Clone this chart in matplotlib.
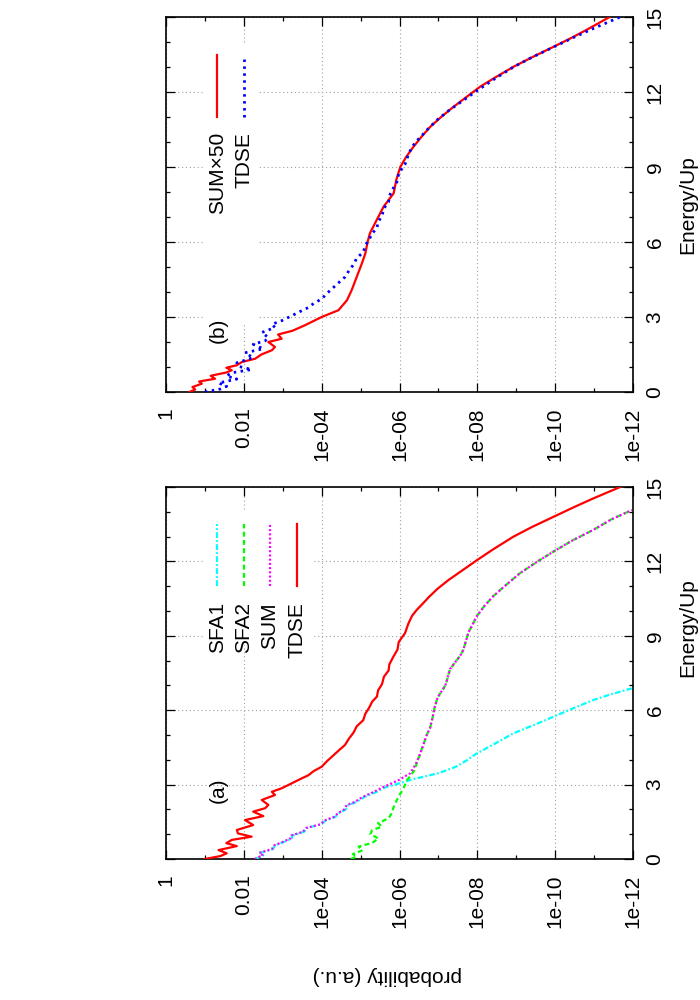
import matplotlib
matplotlib.use("Agg")
import numpy as np
import matplotlib.pyplot as plt
from matplotlib.patches import Rectangle
from matplotlib.ticker import NullFormatter

plt.rcParams['font.family'] = ['Liberation Sans', 'DejaVu Sans']

# DATA (energy in Up, probability stored as log10)
# TDSE, same curve in both panels
tdse_E = [0.00, 0.12, 0.23, 0.36, 0.52, 0.64, 0.77, 0.90, 1.03, 1.17, 1.37, 1.57,
          1.73, 1.91, 2.05, 2.18, 2.38, 2.58, 2.71, 2.85, 3.05, 3.20, 3.38, 3.55,
          3.72, 3.95, 4.12, 4.35, 4.60, 4.85, 5.10, 5.35, 5.60, 5.85, 6.10, 6.35,
          6.55, 6.80, 7.05, 7.35, 7.60, 7.85, 8.15, 8.45, 8.75, 9.10, 9.50, 9.80,
          10.04, 10.30, 10.57, 10.90, 11.25, 11.60, 12.05, 12.50, 13.00, 13.40,
          13.80, 14.20, 14.54, 15.00]
tdse_logp = [-1.00, -1.40, -1.56, -1.35, -1.82, -1.55, -1.69, -2.20, -1.85, -1.82,
             -2.24, -2.03, -2.50, -2.24, -2.55, -2.63, -2.46, -2.80, -2.72, -2.97,
             -3.23, -3.42, -3.66, -3.80, -4.00, -4.14, -4.26, -4.42, -4.60, -4.70,
             -4.82, -4.90, -5.07, -5.12, -5.22, -5.30, -5.42, -5.45, -5.55, -5.60,
             -5.72, -5.74, -5.84, -5.95, -5.98, -6.14, -6.23, -6.32, -6.44, -6.60,
             -6.76, -6.98, -7.26, -7.58, -7.99, -8.42, -8.93, -9.42, -9.96, -10.50,
             -10.98, -11.67]

sfa1_E = [0.00, 0.15, 0.25, 0.40, 0.55, 0.70, 0.83, 0.95, 1.10, 1.25, 1.40, 1.55,
          1.70, 1.85, 2.00, 2.17, 2.30, 2.50, 2.70, 2.90, 3.05, 3.20, 3.46, 3.72,
          4.00, 4.26, 4.65, 5.07, 5.40, 5.74, 6.10, 6.41, 6.65, 6.88]
sfa1_logp = [-2.30, -2.50, -2.42, -2.75, -2.80, -3.05, -3.23, -3.25, -3.55, -3.62,
             -4.00, -4.10, -4.35, -4.45, -4.62, -4.68, -4.90, -5.10, -5.40, -5.65,
             -6.00, -6.30, -7.00, -7.45, -7.75, -7.99, -8.45, -8.93, -9.45, -9.96,
             -10.50, -10.98, -11.45, -11.97]

sfa2_E = [0.00, 0.10, 0.20, 0.35, 0.50, 0.65, 0.83, 1.00, 1.17, 1.30, 1.45, 1.64,
          1.85, 2.10, 2.50, 2.84, 3.17, 3.57, 3.84, 4.20, 4.64, 5.00, 5.31, 5.70,
          6.10, 6.52, 7.00, 7.22, 7.66, 8.20, 8.43, 9.13, 9.80, 10.20, 10.60,
          11.00, 11.53, 12.00, 12.40, 12.85, 13.27, 13.70, 14.07]
sfa2_logp = [-4.75, -4.90, -4.80, -5.05, -4.95, -5.30, -5.46, -5.25, -5.30, -5.55,
             -5.45, -5.72, -5.80, -5.85, -5.97, -6.10, -6.19, -6.38, -6.44, -6.52,
             -6.62, -6.70, -6.79, -6.85, -6.90, -6.98, -7.18, -7.22, -7.30, -7.56,
             -7.64, -7.77, -7.99, -8.18, -8.41, -8.70, -9.10, -9.55, -9.96, -10.45,
             -10.98, -11.45, -11.97]

sum_E = [0.00, 0.15, 0.25, 0.40, 0.55, 0.70, 0.83, 0.95, 1.10, 1.25, 1.40, 1.55,
         1.70, 1.85, 2.00, 2.17, 2.30, 2.50, 2.70, 2.90, 3.05, 3.20, 3.46, 3.84,
         4.20, 4.64, 5.00, 5.31, 5.70, 6.10, 6.52, 7.00, 7.22, 7.66, 8.20, 8.43,
         9.13, 9.80, 10.20, 10.60, 11.00, 11.53, 12.00, 12.40, 12.85, 13.27, 13.70,
         14.07]
sum_logp = [-2.28, -2.48, -2.40, -2.72, -2.78, -3.02, -3.20, -3.22, -3.52, -3.60,
            -3.97, -4.07, -4.32, -4.42, -4.58, -4.64, -4.85, -5.05, -5.33, -5.58,
            -5.80, -6.00, -6.28, -6.42, -6.52, -6.62, -6.70, -6.79, -6.85, -6.90,
            -6.98, -7.18, -7.22, -7.30, -7.56, -7.64, -7.77, -7.99, -8.18, -8.41,
            -8.70, -9.10, -9.55, -9.96, -10.45, -10.98, -11.45, -11.97]

sum50_E = [0.00, 0.10, 0.20, 0.33, 0.42, 0.53, 0.65, 0.78, 0.87, 0.97, 1.07, 1.20,
           1.33, 1.50, 1.67, 1.80, 2.00, 2.13, 2.30, 2.45, 2.67, 3.00, 3.27, 3.67,
           4.07, 4.60, 5.13, 5.53, 6.00, 6.35, 6.90, 7.41, 7.95, 8.50, 9.00, 9.40,
           9.81, 10.20, 10.61, 11.00, 11.41, 11.80, 12.21, 12.60, 13.01, 13.40,
           13.81, 14.15, 14.48, 15.00]
sum50_logp = [-0.60, -0.75, -0.68, -0.92, -0.85, -1.26, -1.15, -1.55, -1.69, -1.55,
              -1.82, -1.95, -2.29, -2.45, -2.72, -2.80, -2.63, -2.97, -2.88, -3.25,
              -3.57, -4.00, -4.43, -4.65, -4.77, -4.90, -5.03, -5.12, -5.18, -5.24,
              -5.42, -5.59, -5.85, -5.92, -6.02, -6.17, -6.36, -6.56, -6.79, -7.07,
              -7.39, -7.72, -8.07, -8.48, -8.93, -9.42, -9.96, -10.40, -10.80,
              -11.40]

prob_ticks = [1, 1e-2, 1e-4, 1e-6, 1e-8, 1e-10, 1e-12]
prob_minor = [1e-1, 1e-3, 1e-5, 1e-7, 1e-9, 1e-11]
prob_labels = ["1", "0.01", "1e-04", "1e-06", "1e-08", "1e-10", "1e-12"]
energy_ticks = [0, 3, 6, 9, 12, 15]
energy_minor = list(range(0, 16))

FS = 15
W, H = 700, 1000

fig = plt.figure(figsize=(7, 10), dpi=100)


def make_ax(x0, x1, ytop, ybot):
    ax = fig.add_axes([x0 / W, 1 - ybot / H, (x1 - x0) / W, (ybot - ytop) / H])
    ax.set_xscale('log')
    ax.set_xlim(1, 1e-12)
    ax.set_ylim(0, 15)
    ax.set_xticks(prob_ticks)
    ax.set_xticklabels(prob_labels)
    ax.set_xticks(prob_minor, minor=True)
    ax.xaxis.set_minor_formatter(NullFormatter())
    ax.set_yticks(energy_ticks)
    ax.set_yticklabels([str(v) for v in energy_ticks])
    ax.set_yticks(energy_minor, minor=True)
    ax.tick_params(which='both', direction='in', top=True, bottom=True,
                   left=True, right=True, width=0.9, labelsize=FS)
    ax.tick_params(which='major', length=6.5)
    ax.tick_params(which='minor', length=3.2)
    ax.tick_params(axis='x', labelrotation=90, pad=11)
    ax.tick_params(axis='y', labelleft=False, labelright=True,
                   labelrotation=90, pad=9)
    for t in ax.yaxis.get_major_ticks():
        t.label2.set_va('center')
    for sp in ax.spines.values():
        sp.set_linewidth(1.2)
    ax.set_axisbelow(True)
    ax.grid(True, which='major', color='#a0a0a0', linestyle=(0, (1, 2.5)),
            linewidth=0.8)
    box = (x0, x1, ytop, ybot)
    return ax, box


def frac(box, px, py):
    x0, x1, ytop, ybot = box
    return (px - x0) / (x1 - x0), (ybot - py) / (ybot - ytop)


def white_box(ax, box, px0, px1, py0, py1):
    fx0, fy1 = frac(box, px0, py0)
    fx1, fy0 = frac(box, px1, py1)
    ax.add_patch(Rectangle((fx0, fy0), fx1 - fx0, fy1 - fy0,
                           transform=ax.transAxes, facecolor='white',
                           edgecolor='none', zorder=1))


def key_entry(ax, box, px, ytop_line, ybot_line, ytext, label, **kw):
    fx, fy0 = frac(box, px, ybot_line)
    _, fy1 = frac(box, px, ytop_line)
    ax.plot([fx, fx], [fy0, fy1], transform=ax.transAxes, zorder=4, **kw)
    _, ft = frac(box, px, ytext)
    ax.text(fx, ft, label, transform=ax.transAxes, rotation=90,
            ha='center', va='top', fontsize=FS, zorder=4)


def p(logs):
    return 10.0 ** np.array(logs)


red = '#ff0000'
green = '#00ff00'
blue = '#0000ff'
magenta = '#ff00ff'
cyan = '#00ffff'
LW = 1.6

sty_sfa1 = dict(color=cyan, lw=LW, linestyle=(0, (2.6, 1.0, 0.8, 1.0)))
sty_sfa2 = dict(color=green, lw=LW, linestyle=(0, (2.2, 1.5)))
sty_sum = dict(color=magenta, lw=LW, linestyle=(0, (0.9, 1.0)))
sty_tdse = dict(color=red, lw=LW, linestyle='-')
sty_tdse_b = dict(color=blue, lw=2.0, linestyle=(0, (0.9, 1.6)))

# panel (a)
ax_a, box_a = make_ax(166, 633, 487, 859)
white_box(ax_a, box_a, 203, 312, 512, 645)
ax_a.plot(p(sfa1_logp), sfa1_E, zorder=3, **sty_sfa1)
ax_a.plot(p(sfa2_logp), sfa2_E, zorder=3, **sty_sfa2)
ax_a.plot(p(sum_logp), sum_E, zorder=3, **sty_sum)
ax_a.plot(p(tdse_logp), tdse_E, zorder=3, **sty_tdse)
for px, lab, sty in zip([217.3, 243.7, 270.0, 296.7],
                        ["SFA1", "SFA2", "SUM", "TDSE"],
                        [sty_sfa1, sty_sfa2, sty_sum, sty_tdse]):
    key_entry(ax_a, box_a, px, 524, 586, 602, lab, **sty)
fx, fy = frac(box_a, 218, 790)
ax_a.text(fx, fy, "(a)", transform=ax_a.transAxes, rotation=90,
          ha='center', va='center', fontsize=FS)

# panel (b)
ax_b, box_b = make_ax(166, 633, 17, 392)
white_box(ax_b, box_b, 203, 257, 43, 325)
ax_b.plot(p(sum50_logp), sum50_E, zorder=3, **sty_tdse)
ax_b.plot(p(tdse_logp), tdse_E, zorder=3, **sty_tdse_b)
key_entry(ax_b, box_b, 217.3, 55, 117, 132, "SUM×50", **sty_tdse)
key_entry(ax_b, box_b, 244.3, 59, 117, 132, "TDSE", **sty_tdse_b)
fx, fy = frac(box_b, 218, 330)
ax_b.text(fx, fy, "(b)", transform=ax_b.transAxes, rotation=90,
          ha='center', va='center', fontsize=FS)

# axis titles (page is turned, so they are placed on the figure)
fig.text(688 / W, 1 - 628 / H, "Energy/Up", rotation=90, ha='center',
         va='center', fontsize=FS)
fig.text(688 / W, 1 - 205 / H, "Energy/Up", rotation=90, ha='center',
         va='center', fontsize=FS)
fig.text(387 / W, 1 - 975 / H, "probability (a.u.)", rotation=180,
         ha='center', va='center', fontsize=FS)

fig.savefig("out.png", dpi=100)
